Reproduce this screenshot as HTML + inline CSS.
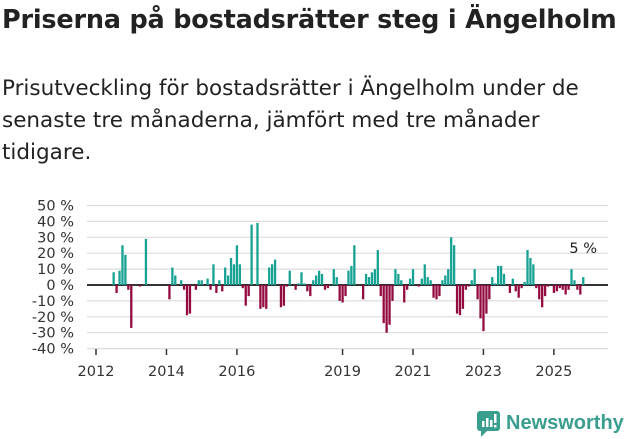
<!DOCTYPE html>
<html><head><meta charset="utf-8"><style>
body{margin:0;width:631px;height:439px;background:#fff;font-family:"DejaVu Sans","Liberation Sans",sans-serif;color:#222;overflow:hidden;position:relative}
h1{position:absolute;left:2px;top:5px;margin:0;font-size:25.5px;font-weight:bold;letter-spacing:-0.2px;white-space:nowrap}
p{position:absolute;left:2px;top:73px;margin:0;font-size:21.5px;line-height:32px;width:595px}
svg{position:absolute;left:0;top:0}
</style></head><body>
<h1>Priserna på bostadsrätter steg i Ängelholm</h1>
<p>Prisutveckling för bostadsrätter i Ängelholm under de senaste tre månaderna, jämfört med tre månader tidigare.</p>
<svg width="631" height="439">
<g id="grid"></g><g id="bars"></g><g id="axis"></g>
<g>
<rect x="477" y="411" width="23" height="20" rx="3" fill="#3a9e8f"/>
<polygon points="481,430 488,430 481,437" fill="#3a9e8f"/>
<rect x="482" y="421" width="2.5" height="6" fill="#fff"/><rect x="486" y="418" width="2.5" height="9" fill="#fff"/><rect x="490" y="420" width="2.5" height="7" fill="#fff"/><rect x="494" y="414" width="2.5" height="9" fill="#fff"/><rect x="494" y="425" width="2.5" height="2.5" fill="#fff"/>
<text x="506" y="429" font-size="20" font-weight="bold" fill="#3a9e8f" font-family="Liberation Sans">Newsworthy</text>
</g>
</svg>
<script>
const yTicks=[50,40,30,20,10,0,-10,-20,-30,-40];
const yTickLabels=["50 %","40 %","30 %","20 %","10 %","0 %","-10 %","-20 %","-30 %","-40 %"];
const xTickYears=[2012,2014,2016,2019,2021,2023,2025];
const months=[6,7,8,9,10,11,12,15,17,25,26,27,29,30,31,32,34,35,36,38,39,40,41,42,43,44,45,46,47,48,49,50,51,52,53,55,56,57,58,59,60,61,63,64,65,66,68,69,70,71,72,73,74,75,76,77,78,79,81,82,83,84,85,86,87,88,91,92,93,94,95,96,97,98,99,100,101,102,103,104,105,106,107,108,110,111,112,113,114,115,116,117,118,119,120,121,122,123,124,125,126,127,128,129,130,131,132,133,134,135,136,137,138,139,141,142,143,144,145,146,147,148,149,150,151,152,153,154,156,157,158,159,160,161,162,163,164,165,166];
const values=[8,-5,9,25,19,-3,-27,-1,29,-9,11,6,3,-3,-19,-18,-3,3,3,4,-3,13,-5,3,-4,11,6,17,13,25,13,-2,-13,-7,38,39,-15,-14,-15,11,13,16,-14,-13,-1,9,-3,1,8,1,-4,-7,3,6,9,7,-3,-2,10,5,-10,-11,-7,9,12,25,-9,7,5,8,10,22,-7,-24,-30,-25,-10,10,7,3,-11,-3,4,10,-1,4,13,5,3,-8,-9,-7,3,6,10,30,25,-18,-19,-15,-3,-1,3,10,-9,-21,-29,-18,-9,5,1,12,12,7,-5,4,-4,-8,-2,2,22,17,13,-2,-9,-14,-7,-1,-5,-4,-2,-3,-6,-3,10,3,-3,-6,5];
const NS="http://www.w3.org/2000/svg";
const x=m=>96+m*2.935, y=v=>285-v*1.59;
function mk(t,a,p){const e=document.createElementNS(NS,t);for(const k in a)e.setAttribute(k,a[k]);document.getElementById(p).appendChild(e);return e;}
yTicks.forEach((v,i)=>{
 const g=mk('line',{x1:87,x2:608,y1:y(v),y2:y(v),stroke:v===0?'#333':'#ddd','stroke-width':v===0?2:1.2},'grid');
 
 
 const t=mk('text',{x:74,y:y(v)+5,'text-anchor':'end','font-size':14.5,fill:'#333'},'axis');
 t.textContent=yTickLabels[i];
 
 
});
xTickYears.forEach(yr=>{
 const m=(yr-2012)*12;
 const l=mk('line',{x1:x(m),x2:x(m),y1:349,y2:355,stroke:'#333','stroke-width':1.5},'axis');
 
 
 const t=mk('text',{x:x(m),y:376,'text-anchor':'middle','font-size':14.5,fill:'#333'},'axis');
 t.textContent=yr;
 
 
});
months.forEach((m,i)=>{
 const v=values[i];
 const r=mk('rect',{x:x(m)-1.1,width:2.3,y:Math.min(y(0),y(v)),height:Math.abs(y(v)-y(0)),fill:v>=0?'#17a294':'#930b3f'},'bars');
 
 
});
const last=months.length-1;
const a=mk('text',{x:x(months[last]),y:y(values[last])-24,'text-anchor':'middle','font-size':14.5,fill:'#222'},'axis');
a.textContent=values[last]+' %';


</script>
</body></html>
